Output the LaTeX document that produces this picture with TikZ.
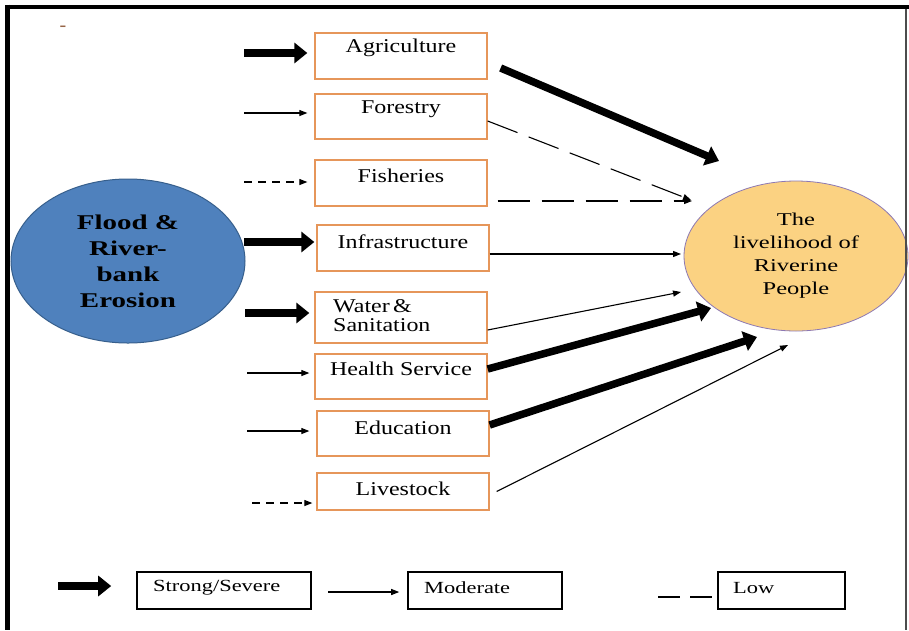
\documentclass[tikz,border=0pt]{standalone}
\usepackage{fontspec}
\setmainfont{Liberation Serif}
\newfontfamily\boxfont{Liberation Serif}[FakeStretch=1.23]
\newfontfamily\ovalfont{Liberation Serif}[FakeStretch=1.36]
\newfontfamily\causefont{Liberation Serif}[FakeStretch=1.38]
\newfontfamily\keyfont{Liberation Serif}[FakeStretch=1.32]
\usetikzlibrary{arrows.meta,shapes.geometric}

\definecolor{boxedge}{RGB}{230,150,90}
\definecolor{floodblue}{RGB}{79,129,189}
\definecolor{floodedge}{RGB}{55,95,140}
\definecolor{lifefill}{RGB}{251,210,130}
\definecolor{lifeedge}{RGB}{140,120,180}
\definecolor{markbrown}{RGB}{150,100,70}

\begin{document}
\begin{tikzpicture}[x=1pt,y=-1pt,
  sector/.style={draw=boxedge,line width=1.3pt,minimum width=172pt,inner sep=0pt},
  sectortext/.style={font=\boxfont\fontsize{19.5}{19}\selectfont,inner sep=0pt},
  strong/.style={line width=7.5pt,-{Triangle[length=13pt,width=20pt]}},
  moderate/.style={line width=1.1pt,-{Triangle[length=8pt,width=6pt]}},
  lowin/.style={moderate,dash pattern=on 8pt off 6pt},
  lowout/.style={moderate,dash pattern=on 32pt off 12pt},
  keybox/.style={draw=black,line width=1.6pt,minimum height=37pt,inner sep=0pt},
  keytext/.style={font=\keyfont\fontsize{17}{20}\selectfont,inner sep=0pt,anchor=west}]

\useasboundingbox (0,0) rectangle (909,630);
\fill[white] (0,0) rectangle (909,630);

% cause and outcome ovals
\node[ellipse,draw=floodedge,fill=floodblue,line width=1pt,
      minimum width=234pt,minimum height=164pt,inner sep=0pt,
      align=center,font=\causefont\bfseries\fontsize{21}{26}\selectfont]
  (flood) at (128,261) {Flood \&\\River-\\bank\\Erosion};
\node[ellipse,draw=lifeedge,fill=lifefill,line width=0.8pt,
      minimum width=224pt,minimum height=150pt,inner sep=0pt,
      align=center,font=\ovalfont\fontsize{18}{23}\selectfont]
  (life) at (796,256) {The\\livelihood of\\Riverine\\People};

% sector boxes
\node[sector,minimum height=46pt] (agri)  at (401,56)    {};
\node[sector,minimum height=45pt] (fore)  at (401,116.5) {};
\node[sector,minimum height=46pt] (fish)  at (401,183)   {};
\node[sector,minimum height=46pt] (infra) at (403,248)   {};
\node[sector,minimum height=51pt] (water) at (401,317.5) {};
\node[sector,minimum height=45pt] (health) at (401,376.5) {};
\node[sector,minimum height=45pt] (edu)   at (403,433.5) {};
\node[sector,minimum height=37pt] (stock) at (403,491.5) {};

\node[sectortext] (agri-t)   at ([yshift=-15pt]agri.north)   {Agriculture};
\node[sectortext] (fore-t)   at ([yshift=-16pt]fore.north)   {Forestry};
\node[sectortext] (fish-t)   at ([yshift=-16pt]fish.north)   {Fisheries};
\node[sectortext] (infra-t)  at ([yshift=-17pt]infra.north)  {Infrastructure};
\node[sectortext,anchor=west,align=left] (water-t) at (333,315.5)
  {Water\,\&\\[0pt]Sanitation};
\node[sectortext] (health-t) at ([yshift=-15pt]health.north) {Health Service};
\node[sectortext] (edu-t)    at ([yshift=-17pt]edu.north)    {Education};
\node[sectortext] (stock-t)  at ([yshift=-16pt]stock.north)  {Livestock};

% starting points of the incoming arrows
\coordinate (in-agri)   at (244,53);
\coordinate (in-fore)   at (244,113);
\coordinate (in-fish)   at (244,182);
\coordinate (in-infra)  at (244,242);
\coordinate (in-water)  at (245,313);
\coordinate (in-health) at (247,373);
\coordinate (in-edu)    at (247,431);
\coordinate (in-stock)  at (252,503);

\draw[strong,shorten >=7pt]   (in-agri)   -- ([yshift=3pt]agri.west);
\draw[moderate,shorten >=7pt] (in-fore)   -- ([yshift=3.5pt]fore.west);
\draw[lowin,shorten >=7pt]    (in-fish)   -- ([yshift=1pt]fish.west);
\draw[strong,shorten >=2pt]   (in-infra)  -- ([yshift=6pt]infra.west);
\draw[strong,shorten >=5pt]   (in-water)  -- ([yshift=4.5pt]water.west);
\draw[moderate,shorten >=5pt] (in-health) -- ([yshift=3.5pt]health.west);
\draw[moderate,shorten >=7pt] (in-edu)    -- ([yshift=2.5pt]edu.west);
\draw[lowin,shorten >=4pt]    (in-stock)  -- ([yshift=-11.5pt]stock.west);

% end points of the outgoing arrows, around the livelihood oval
\coordinate (out-agri)   at (719,161);
\coordinate (out-fore)   at (691,200);
\coordinate (out-fish)   at (692,201);
\coordinate (out-infra)  at (681,254);
\coordinate (out-water)  at (681,292);
\coordinate (out-health) at (711,308);
\coordinate (out-edu)    at (757,337);
\coordinate (out-stock)  at (788,345);

\draw[strong]   ([xshift=13pt,yshift=-12pt]agri.east)  -- (out-agri);
\draw[lowout]   ([yshift=-4.5pt]fore.east)             -- (out-fore);
\draw[lowout]   ([xshift=10pt,yshift=-18pt]fish.east)  -- (out-fish);
\draw[moderate] ([yshift=-6pt]infra.east)              -- (out-infra);
\draw[moderate] ([yshift=-12.5pt]water.east)           -- (out-water);
\draw[strong]   ([yshift=7.5pt]health.east)            -- (out-health);
\draw[strong]   ([yshift=8.5pt]edu.east)               -- (out-edu);
\draw[moderate] ([xshift=7pt]stock.east)               -- (out-stock);

% legend
\node[keybox,minimum width=174pt] (key-strong) at (224,590.5) {};
\node[keybox,minimum width=154pt] (key-mod)    at (485,590.5) {};
\node[keybox,minimum width=127pt] (key-low)    at (781.5,590.5) {};
\node[keytext] (key-strong-t) at (153,588) {Strong/Severe};
\node[keytext] (key-mod-t)    at (424,588) {Moderate};
\node[keytext] (key-low-t)    at (733,588) {Low};

\coordinate (key-strong-s) at (58,586);
\coordinate (key-mod-s)    at (328,592);
\coordinate (key-low-s)    at (658,597);
\draw[strong,shorten >=25pt]  (key-strong-s) -- ([yshift=4.5pt]key-strong.west);
\draw[moderate,shorten >=8pt] (key-mod-s) -- ([yshift=-1.5pt]key-mod.west);
\draw[line width=2pt,dash pattern=on 22pt off 10pt] (key-low-s) -- ([yshift=-6.5pt]key-low.west);

% stray hyphen in the upper left corner
\node[text=markbrown,font=\fontsize{20}{20}\selectfont,inner sep=0pt] (mark) at (63,29) {-};

% frame
\draw[black!70,line width=2pt] (905.5,6) -- (905.5,630);
\draw[black,line width=4pt] (5,6.5) -- (909,6.5);
\draw[black,line width=5pt] (7.5,4.5) -- (7.5,630);
\end{tikzpicture}
\end{document}
